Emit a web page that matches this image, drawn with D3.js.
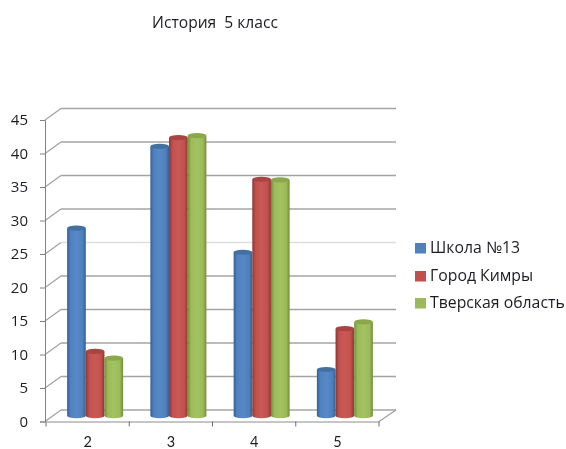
<!DOCTYPE html>
<html><head><meta charset="utf-8">
<script src="https://cdnjs.cloudflare.com/ajax/libs/d3/7.8.5/d3.min.js"></script>
<style>html,body{margin:0;padding:0;background:#fff}svg{display:block}text{font-family:"Open Sans","Noto Sans",sans-serif;fill:#1c1c24}</style>
</head><body><svg id="c" width="566" height="449"></svg>
<script>
const title = "История  5 класс";
const categories = ["2","3","4","5"];
const seriesNames = ["Школа №13","Город Кимры","Тверская область"];
const school = [28,40.2,24.4,6.9];
const city = [9.6,41.5,35.3,13];
const region = [8.6,41.8,35.2,14];
const yTicks = [0,5,10,15,20,25,30,35,40,45];
const colors = [
  {id:"b",dark:"#335f97",mid:"#4f81bd",light:"#5689c6",top:"#43719f"},
  {id:"r",dark:"#8f3634",mid:"#c0504d",light:"#c95a57",top:"#a84441"},
  {id:"g",dark:"#728d3a",mid:"#9bbb59",light:"#a3c261",top:"#8aa84b"}];
const values = [school,city,region];
const depthX = 16, depthY = -11.5;

const svg = d3.select("#c");
const defs = svg.append("defs");
defs.append("filter").attr("id","soft").attr("x","-5%").attr("y","-5%").attr("width","110%").attr("height","110%")
  .append("feGaussianBlur").attr("stdDeviation",0.6);
colors.forEach(c=>{
  const g = defs.append("linearGradient").attr("id","grad"+c.id);
  [[0,c.dark],[0.18,c.mid],[0.5,c.light],[0.82,c.mid],[1,c.dark]].forEach(s=>
    g.append("stop").attr("offset",s[0]).attr("stop-color",s[1]));
});
const root = svg.append("g").attr("filter","url(#soft)");

const x = d3.scaleBand().domain(categories).range([46,379]);
const y = d3.scaleLinear().domain([0,45]).range([421.5,120]);
const inner = d3.scaleBand().domain(d3.range(3)).range([0,56]);
const grid = root.append("g");
grid.selectAll("line.h").data(yTicks).join("line").attr("class","h")
  .attr("x1",x.range()[0]-1+depthX).attr("x2",x.range()[1]+1+depthX)
  .attr("y1",d=>y(d)+depthY).attr("y2",d=>y(d)+depthY)
  .attr("stroke",d=>d===25?"#dedede":"#a4a4a4").attr("stroke-width",1.6);
grid.selectAll("line.d").data(yTicks).join("line").attr("class","d")
  .attr("x1",x.range()[0]-1).attr("x2",x.range()[0]-1+depthX)
  .attr("y1",d=>y(d)).attr("y2",d=>y(d)+depthY)
  .attr("stroke","#a0a0a0").attr("stroke-width",1.2);
grid.append("line").attr("x1",x.range()[1]).attr("x2",x.range()[1]+depthX+1)
  .attr("y1",y(0)).attr("y2",y(0)+depthY).attr("stroke","#a0a0a0").attr("stroke-width",1.2);

const ya = d3.axisLeft(y).tickValues(yTicks).tickSize(5).tickPadding(12).tickFormat(d3.format("d"));
const yg = root.append("g").attr("transform","translate(45,0)").call(ya);
yg.selectAll("text").attr("font-size",15).attr("dy","0.32em");
yg.selectAll("line,path").attr("stroke","#808080");
const xa = d3.axisBottom(x).tickValues([]).tickSizeOuter(0);
const xg = root.append("g").attr("transform","translate(0,"+y(0)+")").call(xa);
xg.select("path").attr("stroke","#8c8c8c");
xg.selectAll("line.b").data(d3.range(5)).join("line").attr("class","b")
  .attr("x1",i=>46+i*x.step()).attr("x2",i=>46+i*x.step()).attr("y1",0).attr("y2",5).attr("stroke","#6c6c6c");
root.selectAll("text.cat").data(categories).join("text").attr("class","cat")
  .attr("x",d=>x(d)+x.bandwidth()/2).attr("y",446.5).attr("text-anchor","middle")
  .attr("font-size",14.5).style("font-family","Lato").text(d=>d);

const rx = inner.bandwidth()/2, ry = 2.6;
categories.forEach((cat,ci)=>{
  const g = root.append("g").attr("transform",`translate(${x(cat)+x.bandwidth()/2-inner.range()[1]/2+depthX/2-0.5},${depthY/2})`);
  const bars = g.selectAll("g").data(values.map((v,i)=>({i,v:v[ci]}))).join("g");
  bars.append("path").attr("fill",d=>`url(#grad${colors[d.i].id})`)
    .attr("d",d=>{
      const a=inner(d.i), w=inner.bandwidth();
      return `M${a},${y(d.v)}V${y(0)}A${rx},${ry} 0 0 0 ${a+w},${y(0)}V${y(d.v)}Z`;});
  bars.append("ellipse").attr("cx",d=>inner(d.i)+rx).attr("cy",d=>y(d.v)).attr("rx",rx).attr("ry",ry)
    .attr("fill",d=>colors[d.i].top);
});

root.append("text").attr("x",215).attr("y",28).attr("text-anchor","middle").attr("font-size",15.6).style("white-space","pre").text(title);

const ly = d3.scaleOrdinal().domain(seriesNames).range([248,276,303]);
const leg = root.selectAll("g.l").data(seriesNames).join("g").attr("class","l").attr("transform",d=>`translate(415,${ly(d)})`);
leg.append("rect").attr("y",-5).attr("width",11).attr("height",10.5).attr("fill",(d,i)=>colors[i].mid);
leg.append("text").attr("x",15).attr("dy","0.34em").attr("font-size",15.8).text(d=>d);
</script></body></html>
